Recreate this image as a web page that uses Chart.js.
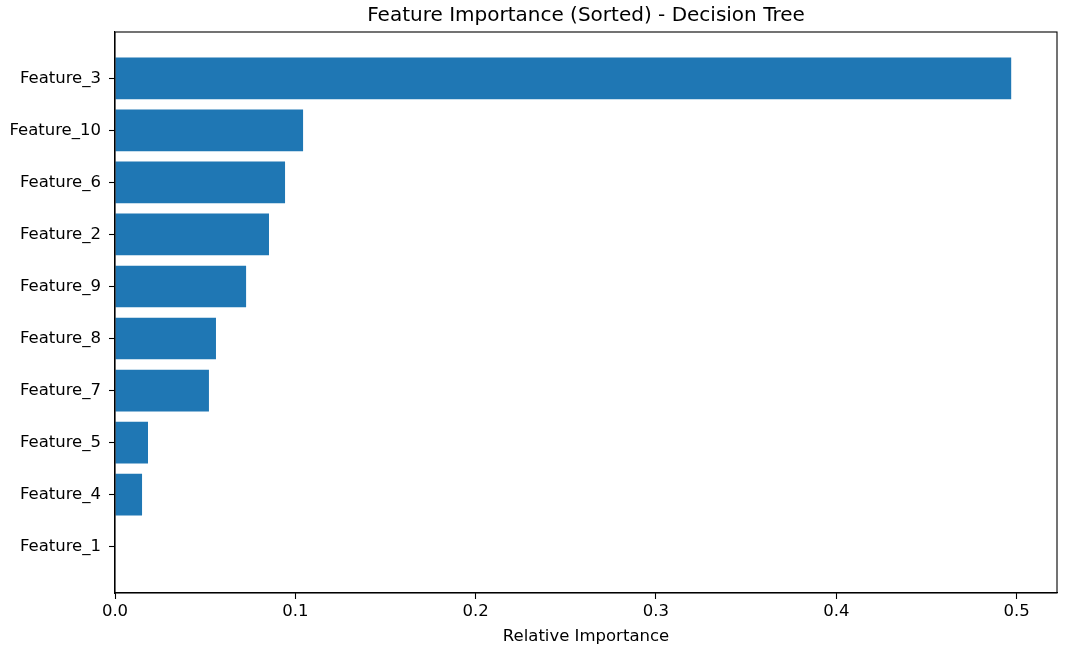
<!DOCTYPE html>
<html>
<head>
<meta charset="utf-8">
<title>Feature Importance (Sorted) - Decision Tree</title>
<script src="https://cdn.jsdelivr.net/npm/chart.js@4"></script>
<style>
  html, body { margin: 0; padding: 0; background: #fff; }
  #wrap { width: 1080px; height: 652px; position: relative; }
</style>
</head>
<body>
<div id="wrap"><canvas id="chart"></canvas></div>
<script>
// values, top to bottom
const features = ['Feature_3', 'Feature_10', 'Feature_6', 'Feature_2', 'Feature_9',
  'Feature_8', 'Feature_7', 'Feature_5', 'Feature_4', 'Feature_1'];
const importances = [0.497, 0.1043, 0.0943, 0.0854, 0.0727, 0.056, 0.0521, 0.0183, 0.015, 0];
const xTicks = [0, 0.1, 0.2, 0.3, 0.4, 0.5];

Chart.defaults.font.family = "'DejaVu Sans', sans-serif";
Chart.defaults.color = '#000';

// matplotlib style box around the plot area
const frame = {
  id: 'frame',
  afterDraw(chart) {
    const { ctx, chartArea: a } = chart;
    ctx.save();
    ctx.strokeStyle = '#000';
    ctx.lineWidth = 1.1;
    ctx.strokeRect(a.left, a.top, a.right - a.left, a.bottom - a.top);
    ctx.restore();
  },
};

new Chart(document.getElementById('chart'), {
  type: 'bar',
  data: {
    datasets: [{
      data: features.map((f, i) => ({ x: importances[i], y: i })),
      backgroundColor: '#1f77b4',
      borderWidth: 0,
      barPercentage: 0.8,
      categoryPercentage: 1.0,
    }],
  },
  options: {
    indexAxis: 'y',
    responsive: true,
    maintainAspectRatio: false,
    animation: false,
    layout: { padding: { left: 0, right: 23, top: 0, bottom: 0 } },
    plugins: {
      legend: { display: false },
      tooltip: { enabled: false },
      title: {
        display: true,
        fullSize: false,
        text: 'Feature Importance (Sorted) - Decision Tree',
        font: { size: 20, weight: 'normal' },
        color: '#000',
        padding: { top: 4, bottom: 4 },
      },
    },
    scales: {
      x: {
        type: 'linear',
        min: 0,
        max: 0.5224,
        afterBuildTicks: (axis) => { axis.ticks = xTicks.map((v) => ({ value: v })); },
        afterFit: (axis) => { axis.height = 59; },
        ticks: {
          font: { size: 16.5 },
          padding: 3,
          callback: (v) => Number(v).toFixed(1),
        },
        grid: { drawOnChartArea: false, drawTicks: true, tickLength: 6, color: '#000', tickWidth: 1.1 },
        border: { display: true, color: '#000', width: 1.1 },
        title: { display: true, text: 'Relative Importance', font: { size: 16.5 }, padding: { top: 2, bottom: 5 } },
      },
      y: {
        type: 'linear',
        reverse: true,
        offset: false,
        min: -0.89,
        max: 9.89,
        afterBuildTicks: (axis) => { axis.ticks = features.map((f, i) => ({ value: i })); },
        afterFit: (axis) => { axis.width = 115; },
        ticks: {
          font: { size: 16.5 },
          padding: 8,
          callback: (v) => features[v] || '',
        },
        grid: { offset: false, drawOnChartArea: false, drawTicks: true, tickLength: 6, color: '#000', tickWidth: 1.1 },
        border: { display: true, color: '#000', width: 1.1 },
      },
    },
  },
  plugins: [frame],
});
</script>
</body>
</html>
